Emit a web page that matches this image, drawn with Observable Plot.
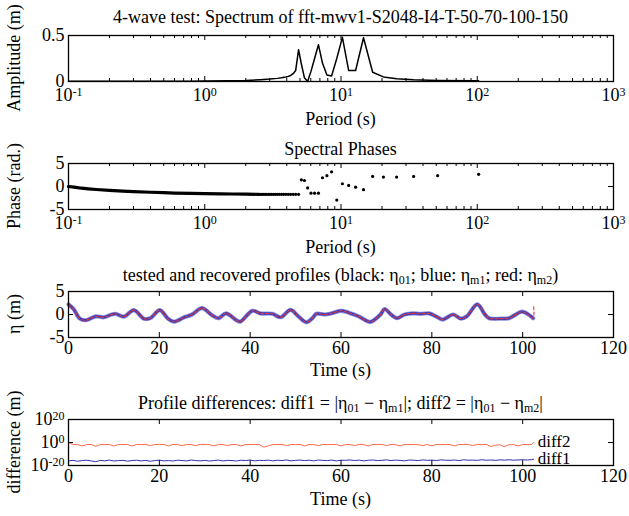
<!DOCTYPE html>
<html><head><meta charset="utf-8">
<script src="https://cdn.jsdelivr.net/npm/d3@7"></script>
<script src="https://cdn.jsdelivr.net/npm/@observablehq/plot@0.6"></script>
<style>
body{margin:0;background:#fff;}
#chart{position:relative;width:629px;height:516px;font-family:"Liberation Serif","Times New Roman",serif;color:#000;overflow:hidden;background:#fff}
.ttl{position:absolute;left:68px;width:545px;text-align:center;font-size:18px;white-space:nowrap;line-height:1}
.yl{position:absolute;font-size:18px;white-space:nowrap;transform:translate(-50%,-50%) rotate(-90deg);line-height:1}
.xl{position:absolute;left:68px;width:545px;text-align:center;font-size:18px;line-height:1;white-space:nowrap}
sub{font-size:12px;vertical-align:-3px;line-height:0}
svg{position:absolute;left:0}
</style></head><body><div id="chart"></div>
<script>
// ---------- data ----------
// Panel 1: amplitude spectrum
const ampPeriod = [0.1,0.2,0.5,0.8,1.0,1.5,2.0,2.56,3.0,3.41,3.66,3.94,4.1,4.27,4.45,4.65,4.88,5.12,5.39,5.69,6.02,6.4,6.83,7.31,7.88,8.53,9.31,10.24,11.38,12.8,14.63,17.07,20.48,25.6,34.13,51.2,102.4];
const ampValue  = [0.002,0.002,0.003,0.004,0.005,0.008,0.012,0.02,0.026,0.034,0.04,0.048,0.056,0.066,0.085,0.12,0.345,0.19,0.04,0.0,0.11,0.25,0.40,0.2,0.07,0.06,0.25,0.48,0.12,0.12,0.475,0.10,0.05,0.03,0.02,0.012,0.008];
// Panel 2: spectral phases (dense band + individual points)
const bandPeriod = [0.1,0.11,0.12,0.14,0.16,0.2,0.25,0.3,0.4,0.5,0.6,0.8,1.0,1.3,1.6,2.0,2.5];
const bandPhase  = [0.0,-0.15,-0.3,-0.5,-0.65,-0.85,-1.0,-1.1,-1.25,-1.35,-1.42,-1.5,-1.55,-1.6,-1.63,-1.67,-1.7];
const phPeriod = [2.56,2.63,2.69,2.77,2.84,2.93,3.01,3.10,3.20,3.30,3.41,3.53,3.66,3.79,3.94,4.10,4.27,4.45,4.65,4.88,
                  5.12,5.39,5.69,6.02,6.4,6.83,7.31,7.88,8.53,9.31,10.24,11.38,12.8,14.63,17.07,20.48,25.6,34.13,51.2,102.4];
const phValue  = [-1.7,-1.7,-1.7,-1.7,-1.7,-1.7,-1.7,-1.7,-1.7,-1.7,-1.7,-1.7,-1.7,-1.7,-1.7,-1.7,-1.7,-1.7,-1.7,-1.7,
                  1.45,1.3,-0.3,-1.45,-1.45,-1.45,1.9,2.35,3.2,-2.95,0.6,0.23,-0.15,-0.68,2.2,2.05,2.05,2.2,2.35,2.65];
// Panel 3: profiles
const t3  = [0,1.1,2.5,3.8,6,7.8,9.5,10.4,12.2,14.4,16.6,18,20.1,21.9,23.2,25.5,27.2,29.4,31.6,33,34.7,36.9,37.8,40.5,42.2,44.9,46.7,48.9,50.6,52.4,53.7,54.6,56.4,57.7,59.9,61.7,63.9,65.7,66.5,68.7,69.6,71,72.3,74,75.8,77.6,79.4,81.1,82.4,84.7,86.4,87.7,90,91.7,92.6,95.3,97,99.7,100.6,102.3];
const eta01 = [2.2,1.2,-0.9,-1.25,-0.4,-0.6,0,0.15,-0.45,0.95,-0.9,-0.8,0.95,-0.9,-1.55,-0.6,0,1.4,-0.15,-0.8,0.25,-1.2,-1.55,0.8,0.25,0.15,-0.6,1.0,-0.4,-1.7,-0.8,0.15,0,0.2,0.8,0.4,-0.4,-1.4,-1.6,0,1.2,0,-0.8,0,0.25,0.15,0.25,-0.5,-1.1,0,-0.9,-0.4,2.2,0,-0.8,-0.9,-0.8,0.6,0.4,-0.8];
const m2EndTime = 102.4, m2EndValue = 1.9;
// Panel 4: differences
const diffTime = [0,1,2,3,4,5,6,7,8,9,
  10,11,12,13,14,15,16,17,18,19,
  20,21,22,23,24,25,26,27,28,29,
  30,31,32,33,34,35,36,37,38,39,
  40,41,42,43,44,45,46,47,48,49,
  50,51,52,53,54,55,56,57,58,59,
  60,61,62,63,64,65,66,67,68,69,
  70,71,72,73,74,75,76,77,78,79,
  80,81,82,83,84,85,86,87,88,89,
  90,91,92,93,94,95,96,97,98,99,
  100,101,102,102.4];
const diff2 = [1e0,2e-2,1.5e-2,1e-3,1.5e-2,2e-2,5e-4,1.5e-2,2e-2,1.5e-2,
  1e-3,2e-2,1.5e-2,2e-2,1e-3,2e-2,1.5e-2,2e-2,2e-3,2e-2,
  1.5e-2,2e-2,1e-3,2e-2,1.5e-2,2e-3,2e-2,1.5e-2,2e-3,2e-2,
  2e-2,1.5e-2,1e-3,2e-2,1.5e-2,2e-3,2e-2,1.5e-2,1e-3,2e-2,
  1.5e-2,2e-2,1.5e-2,1e-4,1e-3,2e-2,1.5e-2,2e-2,2e-3,2e-2,
  1.5e-2,2e-2,1e-3,2e-2,1.5e-2,2e-3,2e-2,1.5e-2,2e-2,1.5e-2,
  1e-3,2e-2,1.5e-2,2e-3,2e-2,1.5e-2,1e-3,2e-2,1.5e-2,2e-2,
  2e-3,2e-2,1.5e-2,1e-3,2e-2,1.5e-2,2e-2,1.5e-2,2e-3,2e-2,
  1e-3,2e-2,1.5e-2,2e-2,1.5e-2,1e-3,2e-2,1.5e-2,2e-2,2e-3,
  2e-2,1.5e-2,2e-2,3e-4,5e-3,1e-2,2e-4,1e-2,1.5e-2,1e-3,
  2e-2,1.5e-2,2e-2,1e0];
const diff1 = [1e-16,3e-16,5e-17,2e-16,4e-16,1e-16,2e-17,3e-16,1e-16,5e-16,
  8e-17,2e-16,3e-16,6e-17,2e-16,4e-16,1e-16,3e-16,5e-17,2e-16,
  5e-16,1e-16,2e-16,8e-17,4e-16,2e-16,1e-16,6e-16,2e-16,1e-16,
  3e-16,7e-17,2e-16,5e-16,1e-16,3e-16,2e-16,8e-17,4e-16,2e-16,
  6e-16,1e-16,3e-16,2e-16,5e-16,1e-16,4e-16,2e-16,7e-16,1e-16,
  3e-16,5e-16,2e-16,4e-16,1e-16,6e-16,3e-16,2e-16,5e-16,1e-16,
  4e-16,3e-16,7e-16,2e-16,5e-16,1e-16,4e-16,6e-16,2e-16,3e-16,
  8e-16,2e-16,5e-16,3e-16,1e-16,6e-16,4e-16,2e-16,7e-16,3e-16,
  5e-16,2e-16,8e-16,4e-16,3e-16,6e-16,2e-16,9e-16,4e-16,5e-16,
  3e-16,1e-15,4e-16,6e-16,3e-16,8e-16,5e-16,1e-15,4e-16,7e-16,
  1e-15,6e-16,1.2e-15,3e-15];
const diffLabels = ["diff2","diff1"];
const diffLabelY = [1e1,1e-14];
const diffLabelX = 103.3;
// ticks
const logMajor = [0.1,1,10,100,1000];
const logMinor = [0.2,0.3,0.4,0.5,0.6,0.7,0.8,0.9,2,3,4,5,6,7,8,9,20,30,40,50,60,70,80,90,200,300,400,500,600,700,800,900];
const timeTicks = [0,20,40,60,80,100,120];
const ampTicks = [0,0.5];
const fiveTicks = [-5,0,5];
const diffTicks = [1e-20,1e0,1e20];

// ---------- layout ----------
const W=629, ML=68, MR=16, BOXH=46, MT=20, MB=32, PW=W-ML-MR;
const chart = document.getElementById("chart");
const font = '"Liberation Serif","Times New Roman",serif';
const supFmt = d => "10^" + Math.round(Math.log10(d));

function fixSup(svg){
  svg.querySelectorAll("text").forEach(t=>{
    const s=t.textContent;
    if(!s.includes("^")) return;
    const [b,e]=s.split("^");
    t.textContent=b;
    const ts=document.createElementNS("http://www.w3.org/2000/svg","tspan");
    ts.setAttribute("dy","-0.42em"); ts.setAttribute("font-size","12");
    ts.textContent=e; t.appendChild(ts);
  });
}
function boxTicks(xs, ys, len){
  return [
    Plot.tickX(xs,{x:d=>d, insetTop:BOXH-len, stroke:"#000"}),
    Plot.tickX(xs,{x:d=>d, insetBottom:BOXH-len, stroke:"#000"}),
    Plot.tickY(ys,{y:d=>d, insetRight:PW-len, stroke:"#000"}),
    Plot.tickY(ys,{y:d=>d, insetLeft:PW-len, stroke:"#000"})
  ];
}
function panel(top, x, y, marks){
  const svg = Plot.plot({
    width:W, height:BOXH+MT+MB, marginLeft:ML, marginRight:MR, marginTop:MT, marginBottom:MB,
    style:{fontFamily:font, fontSize:"18px", background:"transparent", overflow:"visible", color:"#000"},
    x, y,
    marks:[...marks, Plot.frame({stroke:"#000", strokeWidth:1.3})]
  });
  svg.style.top=(top-MT)+"px";
  fixSup(svg);
  chart.append(svg);
}
function div(cls, html, css){
  const d=document.createElement("div"); d.className=cls; d.innerHTML=html;
  Object.assign(d.style, css); chart.append(d);
}
const idx = a => a.map((_,i)=>i);
const xLog = {type:"log", domain:[0.1,1000]};
const axisXLog = Plot.axisX(logMajor,{tickFormat:supFmt, tickSize:0, tickPadding:7, label:null});
const axisXTime = Plot.axisX(timeTicks,{tickFormat:d=>String(d), tickSize:0, tickPadding:4, label:null});

// Panel 1
panel(35, xLog, {domain:[0,0.5]}, [
  Plot.line(idx(ampPeriod),{x:i=>ampPeriod[i], y:i=>ampValue[i], stroke:"#000", strokeWidth:1.5}),
  ...boxTicks(logMajor, ampTicks, 5),
  ...boxTicks(logMinor, [], 3),
  axisXLog,
  Plot.axisY(ampTicks,{tickFormat:d=>String(d), tickSize:0, tickPadding:4, label:null})
]);
// Panel 2
panel(163, xLog, {domain:[-5,5]}, [
  Plot.line(idx(bandPeriod),{x:i=>bandPeriod[i], y:i=>bandPhase[i], stroke:"#000", strokeWidth:3.2}),
  Plot.dot(idx(phPeriod),{x:i=>phPeriod[i], y:i=>phValue[i], r:1.6, fill:"#000", stroke:null}),
  ...boxTicks(logMajor, fiveTicks, 5),
  ...boxTicks(logMinor, [], 3),
  axisXLog,
  Plot.axisY(fiveTicks,{tickFormat:d=>String(d), tickSize:0, tickPadding:4, label:null})
]);
// Panel 3
const m2Time = [...t3, m2EndTime], m2Val = [...eta01, m2EndValue];
panel(291, {domain:[0,120]}, {domain:[-5,5]}, [
  Plot.line(idx(t3),{x:i=>t3[i], y:i=>eta01[i], stroke:"#000", strokeWidth:1, curve:"catmull-rom"}),
  Plot.line(idx(t3),{x:i=>t3[i], y:i=>eta01[i], stroke:"#8f8fe0", strokeWidth:4.2, curve:"catmull-rom"}),
  Plot.line(idx(t3),{x:i=>t3[i], y:i=>eta01[i], stroke:"#3b3bb8", strokeWidth:2.6, curve:"catmull-rom"}),
  Plot.line(idx(m2Time),{x:i=>m2Time[i], y:i=>m2Val[i], stroke:"#e03a3a", strokeWidth:1.1, strokeDasharray:"3,2", curve:"catmull-rom"}),
  ...boxTicks(timeTicks, fiveTicks, 5),
  axisXTime,
  Plot.axisY(fiveTicks,{tickFormat:d=>String(d), tickSize:0, tickPadding:4, label:null})
]);
// Panel 4
panel(419, {domain:[0,120]}, {type:"log", domain:[1e-20,1e20]}, [
  Plot.line(idx(diffTime),{x:i=>diffTime[i], y:i=>diff2[i], stroke:"#ff6a4d", strokeWidth:1}),
  Plot.line(idx(diffTime),{x:i=>diffTime[i], y:i=>diff1[i], stroke:"#3030b0", strokeWidth:1}),
  Plot.text(diffLabels,{x:()=>diffLabelX, y:(d,i)=>diffLabelY[i], text:d=>d, textAnchor:"start", fontSize:17, fill:"#000"}),
  ...boxTicks(timeTicks, diffTicks, 5),
  axisXTime,
  Plot.axisY(diffTicks,{tickFormat:supFmt, tickSize:0, tickPadding:4, label:null})
]);

// titles and axis labels
div("ttl","4-wave test: Spectrum of fft-mwv1-S2048-I4-T-50-70-100-150",{top:"8px"});
div("ttl","Spectral Phases",{top:"140px"});
div("ttl","tested and recovered profiles (black: η<sub>01</sub>; blue: η<sub>m1</sub>; red: η<sub>m2</sub>)",{top:"266px"});
div("ttl","Profile differences: diff1 = |η<sub>01</sub> − η<sub>m1</sub>|; diff2 = |η<sub>01</sub> − η<sub>m2</sub>|",{top:"394px"});
div("xl","Period (s)",{top:"110px"});
div("xl","Period (s)",{top:"238px"});
div("xl","Time (s)",{top:"361px"});
div("xl","Time (s)",{top:"490px"});
div("yl","Amplitude (m)",{left:"14px",top:"58px"});
div("yl","Phase (rad.)",{left:"14px",top:"186px"});
div("yl","η (m)",{left:"14px",top:"314px"});
div("yl","difference (m)",{left:"14px",top:"442px"});
</script></body></html>
